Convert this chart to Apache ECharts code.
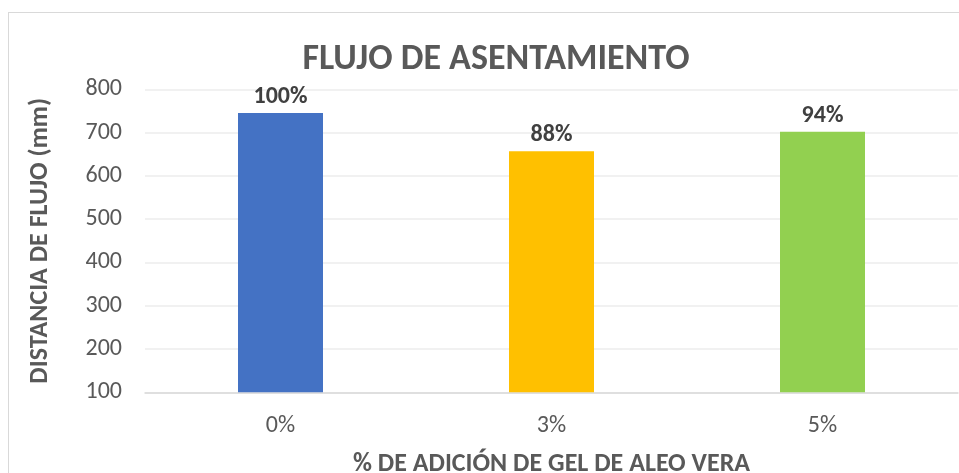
<!DOCTYPE html>
<html>
<head>
<meta charset="utf-8">
<script src="https://cdn.jsdelivr.net/npm/echarts@6/dist/echarts.min.js"></script>
<style>
  html, body { margin: 0; padding: 0; background: #fff; overflow: hidden; }
  #frame { position: absolute; left: 8px; top: 12px; width: 1000px; height: 500px; border: 1px solid #d9d9d9; box-sizing: border-box; }
  #chart { position: absolute; left: 0; top: 0; width: 959px; height: 473px; }
</style>
</head>
<body>
<div id="frame"></div>
<div id="chart"></div>
<script>
const categories = ['0%', '3%', '5%'];
const flowValues = [745, 657, 702];
const percentLabels = ['100%', '88%', '94%'];
const barColors = ['#4472C4', '#FFC000', '#92D050'];

const FONT = 'Carlito, Lato, sans-serif';

const chart = echarts.init(document.getElementById('chart'));

const option = {
  animation: false,
  title: {
    text: 'FLUJO DE ASENTAMIENTO',
    left: 491,
    textAlign: 'center',
    top: 37,
    textStyle: { fontFamily: FONT, fontSize: 36, fontWeight: 'bold', color: '#595959' }
  },
  grid: { left: 145, right: 1, top: 89.3, bottom: 80.7, outerBoundsMode: 'none', containLabel: false },
  xAxis: {
    type: 'category',
    data: categories,
    name: '% DE ADICIÓN DE GEL DE ALEO VERA',
    nameLocation: 'middle',
    nameGap: 59,
    nameTextStyle: { fontFamily: FONT, fontSize: 26, fontWeight: 'bold', color: '#595959' },
    axisTick: { show: false },
    axisLine: { lineStyle: { color: '#d9d9d9', width: 1.5 } },
    axisLabel: { fontFamily: FONT, fontSize: 24, color: '#595959', margin: 22 }
  },
  yAxis: {
    type: 'value',
    min: 100,
    max: 800,
    interval: 100,
    name: 'DISTANCIA DE FLUJO (mm)',
    nameLocation: 'middle',
    nameGap: 92,
    nameRotate: 90,
    nameTextStyle: { fontFamily: FONT, fontSize: 26, fontWeight: 'bold', color: '#595959' },
    axisLine: { show: false },
    axisTick: { show: false },
    axisLabel: { fontFamily: FONT, fontSize: 24, color: '#595959', margin: 23 },
    splitLine: { lineStyle: { color: '#ededed', width: 1.5 } }
  },
  series: [{
    type: 'bar',
    barWidth: 85,
    data: flowValues.map((v, i) => ({ value: v, itemStyle: { color: barColors[i] } })),
    label: {
      show: true,
      position: 'top',
      distance: 4,
      formatter: p => percentLabels[p.dataIndex],
      fontFamily: FONT,
      fontSize: 24,
      fontWeight: 'bold',
      color: '#404040'
    }
  }]
};

chart.setOption(option);
</script>
</body>
</html>
